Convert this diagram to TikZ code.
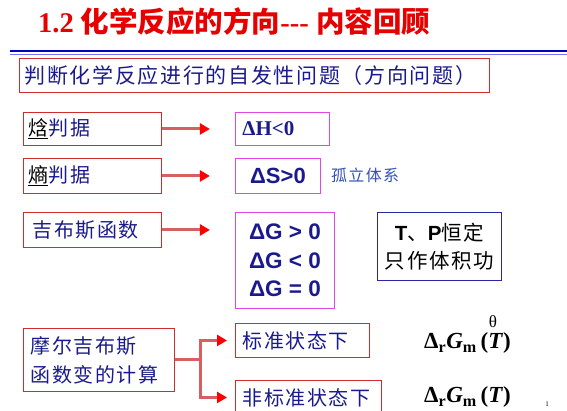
\documentclass[tikz,border=0pt]{standalone}
\usepackage{fontspec}
\setmainfont{Liberation Serif}
\newfontfamily\cjk[LetterSpace=8]{Noto Sans CJK SC}
\newfontfamily\cjkt{Noto Sans CJK SC}
\newfontfamily\arialf{Liberation Sans}
\usetikzlibrary{arrows.meta}
\definecolor{navy}{RGB}{26,26,140}
\definecolor{boxred}{RGB}{205,45,45}
\definecolor{boxmag}{RGB}{225,70,225}
\definecolor{boxblue}{RGB}{40,40,160}
\definecolor{connpink}{RGB}{215,95,95}
\definecolor{titlered}{RGB}{230,0,0}
\definecolor{lblue}{RGB}{50,80,180}
\begin{document}
\begin{tikzpicture}[x=1pt,y=-1pt,
 rbox/.style={draw=boxred, line width=0.9pt, anchor=north west, inner xsep=5pt, inner ysep=0pt, align=left, text=navy, font=\cjk\fontsize{20}{29}\selectfont},
 mbox/.style={draw=boxmag, line width=0.9pt, anchor=north west, inner sep=0pt, text=navy},
 conn/.style={draw=connpink, line width=3pt, -{Triangle[length=10pt,width=11pt,color=red]}},
 connline/.style={draw=connpink, line width=3pt},
 plain/.style={inner sep=0pt}
]
\useasboundingbox (0,0) rectangle (567,410);
\clip (0,0) rectangle (567,410);
% title
\node[plain, anchor=west, text=titlered, font=\bfseries\fontsize{28.5}{28.5}\selectfont] (title) at (38,22) {1.2 {\cjkt 化学反应的方向}-{}-{}- {\cjkt 内容回顾}};
\draw[draw=blue!75!black, line width=2pt] (10,50.5) -- (567,50.5);
\draw[draw=blue!55, line width=0.8pt] (10,54) -- (567,54);
% question box
\node[rbox, text width=460pt, minimum height=34pt, font=\cjk\fontsize{21}{21}\selectfont] (q) at (19,58) {判断化学反应进行的自发性问题（方向问题）};
% left boxes
\node[rbox, text width=128pt, minimum height=33pt] (h) at (23,112) {{\color{black}\underline{焓}}判据};
\node[rbox, text width=128pt, minimum height=35pt] (s) at (23,158) {{\color{black}\underline{熵}}判据};
\node[rbox, inner xsep=9pt, text width=120pt, minimum height=35pt] (g) at (23,212) {吉布斯函数};
\node[rbox, inner xsep=7pt, text width=137pt, minimum height=63pt] (m) at (23,328) {摩尔吉布斯\\函数变的计算};
% right boxes
\node[mbox, inner xsep=7pt, text width=80pt, minimum height=33pt, align=left, font=\bfseries\fontsize{21}{21}\selectfont] (dh) at (235,112) {ΔH<0};
\node[mbox, minimum width=85pt, minimum height=35pt, font=\arialf\bfseries\fontsize{22}{22}\selectfont] (ds) at (235,158) {ΔS>0};
\node[mbox, minimum width=99pt, minimum height=96pt, align=center, font=\arialf\bfseries\fontsize{22.5}{28.5}\selectfont] (dg) at (235,212) {ΔG > 0\\ΔG < 0\\ΔG = 0};
\node[plain, anchor=west, text=lblue, font=\cjk\fontsize{16}{16}\selectfont] (iso) at (331,175) {孤立体系};
\node[draw=boxblue, line width=0.9pt, anchor=north west, inner sep=0pt, minimum width=124pt, minimum height=68pt, align=center, font=\cjk\fontsize{20.5}{28}\selectfont] (tp) at (377,212) {{\arialf\bfseries T}、{\arialf\bfseries P}恒定\\只作体积功};
\node[rbox, inner xsep=7pt, text width=120pt, minimum height=34pt] (std) at (235,323) {标准状态下};
\node[rbox, inner xsep=7pt, text width=132pt, minimum height=34pt] (nstd) at (235,380) {非标准状态下};
% formulas
\node[plain, anchor=west, font=\bfseries\fontsize{23}{23}\selectfont] (g1) at (424,343) {Δ\textsubscript{r}\textit{G}\textsubscript{m}\,(\textit{T})};
\node[plain, font=\fontsize{17}{17}\selectfont] (th) at (493,322) {θ};
\node[plain, anchor=west, font=\bfseries\fontsize{23}{23}\selectfont] (g2) at (424,397) {Δ\textsubscript{r}\textit{G}\textsubscript{m}\,(\textit{T})};
\node[plain, font=\fontsize{7}{7}\selectfont] (pg) at (547,404) {1};
% connectors
\coordinate (h1) at ([xshift=48pt]h.east);
\coordinate (s1) at ([xshift=48pt]s.east);
\coordinate (g1e) at ([xshift=48pt]g.east);
\draw[conn] (h.east) -- (h1);
\draw[conn] (s.east) -- (s1);
\draw[conn] (g.east) -- (g1e);
\coordinate (fk) at ([xshift=26pt]m.east);
\draw[connline] (m.east) -- (fk);
\draw[conn] (fk) |- ([xshift=-8pt]std.west);
\draw[conn] (fk) |- ([xshift=-8pt]nstd.west);
\end{tikzpicture}
\end{document}
